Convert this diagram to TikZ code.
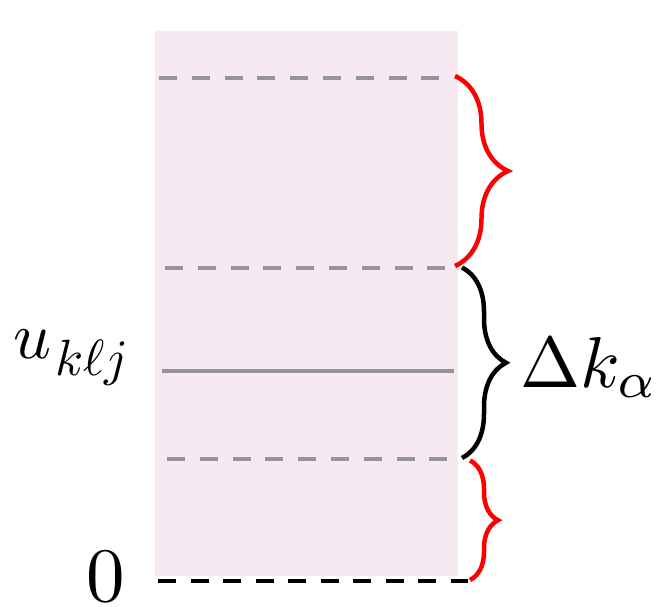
\documentclass[tikz,border=0pt]{standalone}
\usepackage{graphicx}
\usetikzlibrary{decorations.pathreplacing}
\definecolor{bandpink}{RGB}{246,233,242}
\definecolor{levelgray}{RGB}{150,150,150}
\begin{document}
\begin{tikzpicture}[x=1pt,y=-1pt,
  level/.style={line width=4pt, levelgray, dash pattern=on 18pt off 14.8pt},
  solidlevel/.style={line width=4pt, levelgray},
  zerolevel/.style={line width=4pt, black, dash pattern=on 18pt off 14.5pt},
  bracestyle/.style={line width=4.5pt, decorate, decoration={brace, amplitude=#1}},
  lbl/.style={inner sep=0pt, outer sep=0pt}]
\useasboundingbox (0,0) rectangle (656,607);
% band
\fill[bandpink] (155,31) rectangle (458,576);
% levels
\coordinate (l1a) at (159,78);   \coordinate (l1b) at (441,78);
\coordinate (l2a) at (165,267.5); \coordinate (l2b) at (446,267.5);
\coordinate (l3a) at (167,459);   \coordinate (l3b) at (449,459);
\coordinate (ma) at (162,371.3);  \coordinate (mb) at (454,371.3);
\coordinate (za) at (158,580.5);  \coordinate (zb) at (468,580.5);
\draw[level] (l1a) -- (l1b);
\draw[level] (l2a) -- (l2b);
\draw[level] (l3a) -- (l3b);
\draw[solidlevel] (ma) -- (mb);
\draw[zerolevel] (za) -- (zb);
% braces
\coordinate (b1a) at (455,76);  \coordinate (b1b) at (455,266);
\coordinate (b2a) at (462,267.5); \coordinate (b2b) at (462,458);
\coordinate (b3a) at (470,460.5); \coordinate (b3b) at (470,580);
\draw[red, bracestyle=53pt] (b1a) -- (b1b);
\draw[black, bracestyle=44pt] (b2a) -- (b2b);
\draw[red, bracestyle=28pt] (b3a) -- (b3b);
% labels
\node[lbl, anchor=base west, scale=7.2] (dk) at (520,387) {$\Delta k_\alpha$};
\node[lbl, anchor=base west, scale=5.1] (u) at (13,358) {\scalebox{1.3}{$u$}\kern0.8pt\raisebox{-3.4pt}{$k\ell j$}};
\node[lbl, anchor=base, scale=7.7] (zero) at (105.5,601) {$0$};
\end{tikzpicture}
\end{document}
